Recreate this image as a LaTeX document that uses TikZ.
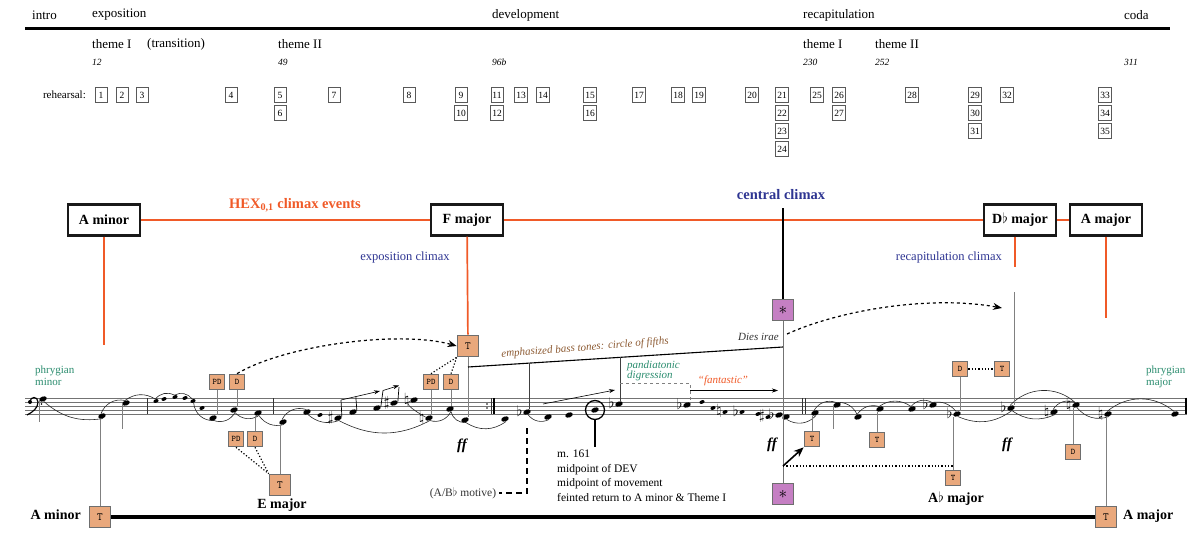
\documentclass[tikz,border=0pt]{standalone}
\usepackage{fontspec}
\setmainfont{Liberation Serif}
\usetikzlibrary{shapes.geometric,arrows.meta,calc}
\definecolor{sfOrange}{HTML}{F05A28}
\definecolor{sfNavy}{HTML}{2E3592}
\definecolor{sfGreen}{HTML}{2A8C6E}
\definecolor{sfBrown}{HTML}{8C5A32}
\definecolor{sfFill}{HTML}{E9A87C}
\definecolor{sfPurple}{HTML}{C57FC3}
\definecolor{sfEdge}{HTML}{6E6E6E}
\begin{document}
\begin{tikzpicture}[x=1pt,y=-1pt]
\tikzset{
    sfTop/.style={anchor=west,inner sep=0pt,font=\fontsize{13}{15}\selectfont},
    sfBar/.style={anchor=west,inner sep=0pt,font=\fontsize{9.5}{11}\selectfont\itshape},
    sfReh/.style={rectangle,draw=black!65,line width=0.6pt,minimum width=12pt,minimum height=15pt,inner sep=1.5pt,font=\fontsize{9.5}{10}\selectfont},
    sfKey/.style={rectangle,draw=black!90,line width=2.3pt,fill=white,minimum width=72pt,minimum height=31pt,inner sep=0pt,font=\fontsize{14}{16}\selectfont\bfseries},
    sfFn/.style={rectangle,draw=sfEdge,line width=1.7pt,fill=sfFill,minimum width=15pt,minimum height=15pt,inner sep=1.5pt,font=\fontsize{8.5}{9}\ttfamily},
    sfFnBig/.style={sfFn,minimum width=21pt,minimum height=21pt,font=\fontsize{11}{12}\ttfamily},
    sfStar/.style={rectangle,draw=sfEdge,line width=1.7pt,fill=sfPurple,minimum width=21pt,minimum height=21pt,inner sep=0pt,font=\fontsize{16}{16}\selectfont},
    sfNote/.style={ellipse,fill=black,minimum width=7.8pt,minimum height=5pt,inner sep=0pt,rotate=20},
    sfGrace/.style={sfNote,minimum width=5.4pt,minimum height=3.6pt},
    sfAcc/.style={inner sep=0pt,font=\fontsize{14}{14}\selectfont},
    sfStaff/.style={black!55,line width=0.6pt},
    sfStem/.style={black!50,line width=0.7pt},
    sfSlur/.style={black!85,line width=0.6pt},
    sfHex/.style={sfOrange,line width=1.7pt},
    sfLabel/.style={inner sep=0pt,font=\fontsize{14}{16}\selectfont\bfseries},
    sfClimax/.style={sfNavy,inner sep=0pt,font=\fontsize{12.5}{14}\selectfont},
    sfDyn/.style={inner sep=0pt,font=\fontsize{15}{15}\selectfont\bfseries\itshape},
    sfNoteText/.style={inner sep=0pt,font=\fontsize{11}{12}\selectfont\itshape},
    sfBody/.style={inner sep=0pt,font=\fontsize{11.5}{14.5}\selectfont},
}
\useasboundingbox (0,0) rectangle (1200,543);

\node[sfTop] (intro) at (32,15) {intro};
\node[sfTop] (expo) at (92,15) {exposition};
\node[sfTop] (dev) at (492,15) {development};
\node[sfTop] (recap) at (803,15) {recapitulation};
\node[sfTop] (coda) at (1124,15) {coda};
\draw[line width=2.7pt] (25,28.5) -- (1170,28.5);

\node[sfTop] (thI) at (92,44) {theme I};
\node[sfTop] (trans) at (147,44) {(transition)};
\node[sfTop] (thII) at (278,44) {theme II};
\node[sfTop] (rthI) at (803,44) {theme I};
\node[sfTop] (rthII) at (875,44) {theme II};
\node[sfBar] (m12) at (92,62) {12};
\node[sfBar] (m49) at (278,62) {49};
\node[sfBar] (m96) at (492,62) {96b};
\node[sfBar] (m230) at (803,62) {230};
\node[sfBar] (m252) at (875,62) {252};
\node[sfBar] (m311) at (1124,62) {311};

\node[anchor=east,inner sep=0pt,font=\fontsize{11}{12}\selectfont] (reh) at (86,95) {rehearsal:};
\foreach \x/\r/\t in {
    101/1/1, 122/1/2, 142/1/3, 231/1/4, 280/1/5, 280/2/6, 334/1/7, 409/1/8,
    461/1/9, 461/2/10, 497/1/11, 497/2/12, 521/1/13, 543/1/14, 590/1/15, 590/2/16,
    639/1/17, 678/1/18, 699/1/19, 752/1/20, 782/1/21, 782/2/22, 782/3/23, 782/4/24,
    817/1/25, 839/1/26, 839/2/27, 912/1/28, 975/1/29, 975/2/30, 975/3/31, 1007/1/32,
    1105/1/33, 1105/2/34, 1105/3/35
} {
    \node[sfReh] (r\t) at (\x,{77+18*\r}) {\t};
}

\node[sfKey] (kAmin) at (104,220) {A minor};
\node[sfKey] (kFmaj) at (467,220) {F major};
\node[sfKey] (kDb) at (1020,220) {D$\flat$ major};
\node[sfKey] (kAmaj) at (1106,220) {A major};
\draw[sfHex] (kAmin) -- (kFmaj) -- (kDb) -- (kAmaj);
\node[sfLabel,sfOrange,font=\fontsize{14.5}{16}\selectfont\bfseries] (hex) at (295,205) {HEX\textsubscript{0,1} climax events};
\node[sfLabel,sfNavy,font=\fontsize{14.5}{16}\selectfont\bfseries] (cc) at (781,195) {central climax};
\node[sfClimax] (ec) at (405,257) {exposition climax};
\node[sfClimax,anchor=east] (rc) at (1002,257) {recapitulation climax};

\foreach \k in {0,...,4} {
    \draw[sfStaff] (25,398+4*\k) -- (1187,398+4*\k);
}
\fill (30,402) circle (2);
\draw[line width=1.2pt] (30,402) .. controls (30,396) and (38,396) .. (38,402) .. controls (38,408) and (33,412) .. (27,415);
\fill (41.5,400) circle (0.85);
\fill (41.5,404) circle (0.85);
\foreach \x in {147,273,491,802,805} {
    \draw[sfStaff,black!80] (\x,398) -- (\x,414);
}
\draw[line width=2.2pt] (494,398) -- (494,414);
\fill (487,404) circle (0.9);
\fill (487,408) circle (0.9);
\draw[line width=2.6pt] (1186,397.7) -- (1186,414.3);

\foreach \i/\x/\y in {
    1/43/399, 2/102/416, 3/126/403, 10/213/418, 11/234/410, 12/258/413, 13/283/422,
    14/307/412, 16/338/418, 17/353/412, 18/377/408, 19/394/403, 20/414/400, 21/429/418,
    22/450/409, 23/465/420, 24/505/419, 25/527/412, 26/548/417, 27/569/415, 28/595/410,
    29/619/404, 30/687/405, 37/779/415, 38/786/417, 39/815/413, 40/837/405, 41/858/417,
    42/880/409, 43/912/409, 44/933/405, 45/957/414, 46/1011/408, 47/1054/412, 48/1076/405,
    49/1108/414, 50/1175/414
} {
    \node[sfNote] (n\i) at (\x,\y) {};
}
\foreach \i/\x/\y in {
    4/156/401, 5/164/399, 6/175/397, 7/185/398, 8/193/401, 9/202/408, 15/320/415,
    31/702/402, 32/713/408, 33/725/412, 34/742/412, 35/758/414, 36/768/417
} {
    \node[sfGrace] (n\i) at (\x,\y) {};
}
\foreach \i/\a in {16/\sharp, 19/\sharp, 20/\natural, 21/\natural, 25/\flat, 29/\flat,
    30/\flat, 33/\natural, 34/\flat, 36/\sharp, 37/\flat, 44/\flat, 45/\flat, 46/\flat,
    47/\natural, 48/\natural, 49/\natural} {
    \node[sfAcc,anchor=east] (acc\i) at ([xshift=-0.5pt,yshift=2pt]n\i.west) {$\a$};
}

\foreach \a/\b/\s in {1/2/25, 8/10/45, 10/11/40, 11/12/40, 12/13/35, 14/16/30, 16/21/28,
    21/22/40, 22/23/40, 23/24/35, 25/26/40, 38/39/40, 45/46/30, 46/47/30, 48/49/35} {
    \draw[sfSlur] (n\a.south) to[bend right=\s] (n\b.south);
}
\foreach \a/\b/\s in {2/3/40, 3/4/35, 4/6/40, 6/8/40, 13/14/40, 39/40/40, 40/41/35,
    41/42/35, 42/43/35, 43/44/40, 44/45/30, 46/48/45, 47/48/40, 49/50/40} {
    \draw[sfSlur] (n\a.north) to[bend left=\s] (n\b.north);
}
\draw[sfSlur] (n20.west) to[out=190,in=150] (n21.north west);

\draw[sfStem] (n1.west) -- ++(0,22);
\draw[sfStem] (n3.west) -- ++(0,25);
\draw[sfStem] (n40.west) -- ++(0,23);

\coordinate (b1) at (341,400);
\coordinate (b2) at (380,391);
\coordinate (b3) at (383,390.5);
\coordinate (b4) at (399,385.5);
\draw[sfStem,black] (n16.east) -- (b1);
\draw[sfStem,black] (n17.east) -- ($(b1)!0.38!(b2)$);
\draw[sfStem,black] (n18.east) -- (b3);
\draw[sfStem,black] (n19.east) -- (b4 |- 0,387);
\draw[black,line width=0.6pt,-{Stealth[length=6pt,width=4pt]}] (b1) -- (b2);
\draw[black,line width=0.6pt,-{Stealth[length=6pt,width=4pt]}] (b3) -- (b4);

\node[sfFnBig] (tAmin) at (100,517) {T};
\node[sfFnBig] (tAmaj) at (1106,517) {T};
\draw[line width=3.2pt] (tAmin) -- (tAmaj);
\node[sfLabel,anchor=east] (lAmin) at (81,515) {A minor};
\node[sfLabel,anchor=west] (lAmaj) at (1123,516) {A major};
\draw[sfStem] (tAmin.north) -- (tAmin.north |- n2.south);
\draw[sfStem] (tAmaj.north) -- (tAmaj.north |- n49.south);

\node[sfFn] (fPD1) at (217,382) {PD};
\node[sfFn] (fD1) at (237,382) {D};
\node[sfFn] (fPD2) at (236,439) {PD};
\node[sfFn] (fD2) at (255,439) {D};
\node[sfFnBig] (tE) at (280,485) {T};
\node[sfLabel] (lE) at (282,505) {E major};
\draw[sfStem] (fPD1.south) -- (fPD1.south |- n10.north);
\draw[sfStem] (fD1.south) -- (fD1.south |- n11.north);
\draw[sfStem] (fD2.north) -- (fD2.north |- n12.south);
\draw[sfStem] (tE.north) -- (tE.north |- n13.south);
\draw[dotted,line width=1.2pt] (fPD2.south) -- (tE.north west);
\draw[dotted,line width=1.2pt] (fD2.south) -- (tE.north west);

\node[sfFn] (fPD3) at (431,382) {PD};
\node[sfFn] (fD3) at (451,382) {D};
\node[sfFnBig] (tF) at (468,346) {T};
\draw[sfStem] (fPD3.south) -- (fPD3.south |- n21.north);
\draw[sfStem] (fD3.south) -- (fD3.south |- n22.north);
\draw[sfStem] (tF.south) -- (tF.south |- n23.north);
\draw[dotted,line width=1.2pt] (fPD3.north) -- (tF.south west);
\draw[dotted,line width=1.2pt] (fD3.north) -- (tF.south west);
\draw[dashed,line width=1.2pt,-{Stealth[length=9pt,width=7pt]}] (fD1.north) .. controls (285,345) and (400,330) .. (tF.west);
\draw[sfHex] (kFmaj) -- (tF);
\coordinate (oAmin) at (104,345);
\draw[sfHex] (kAmin) -- (oAmin);
\coordinate (oDb) at (1015,267);
\draw[sfHex] (oDb |- kDb.south) -- (oDb);
\coordinate (oAmaj) at (1106,318);
\draw[sfHex] (kAmaj) -- (oAmaj);

\node[sfDyn] (ff1) at (462,446) {ff};
\node[sfDyn] (ff2) at (772,445) {ff};
\node[sfDyn] (ff3) at (1007,445) {ff};

\node[sfGreen,anchor=north west,align=left,inner sep=0pt,font=\fontsize{11}{11.5}\selectfont] (phMin) at (35,366) {phrygian\\minor};
\node[sfGreen,anchor=north west,align=left,inner sep=0pt,font=\fontsize{11}{11.5}\selectfont] (phMaj) at (1146,366) {phrygian\\major};

\coordinate (eStart) at (468,367);
\coordinate (eEnd) at (783,347);
\draw[line width=1.1pt] (eStart) -- (eEnd);
\node[sfNoteText,sfBrown,rotate=4.5] (emph) at (585,348) {emphasized bass tones: circle of fifths};
\coordinate (eA) at ($(eStart)!0.194!(eEnd)$);
\coordinate (eB) at ($(eStart)!0.483!(eEnd)$);
\draw[sfStem,black!75] (eA) -- (eA |- n25.north);
\draw[sfStem,black!75] (eB) -- (eB |- n29.north);

\coordinate (pdA) at (620,383);
\coordinate (pdB) at (690,383);
\draw[dashed,black!50,line width=0.9pt] (pdA) -- (pdB) -- (pdB |- n30.north);
\node[sfNoteText,sfGreen,anchor=north west,align=left,font=\fontsize{11}{10}\selectfont\itshape] (pand) at (627,361) {pandiatonic\\digression};
\node[sfNoteText,sfOrange] (fant) at (723,381) {``fantastic''};
\coordinate (fa1) at (543,404);
\coordinate (fa2) at (615,390);
\coordinate (fa3) at (690,390.5);
\coordinate (fa4) at (778,390.5);
\draw[black,line width=0.6pt,-{Stealth[length=6pt,width=4pt]}] (fa1) -- (fa2);
\draw[black,line width=0.6pt,-{Stealth[length=6pt,width=4pt]}] (fa3) -- (fa4);

\node[circle,draw,line width=1.3pt,minimum size=19pt,inner sep=0pt] (circ) at (n28) {};
\coordinate (cEnd) at (595,447);
\draw[line width=1.6pt] (circ.south) -- (cEnd);
\node[sfBody,anchor=north west,align=left] (m161) at (557,450) {m. 161\\midpoint of DEV\\midpoint of movement\\feinted return to A minor \& Theme I};

\node[sfBody,black!80] (motive) at (463,493) {(A/B$\flat$ motive)};
\coordinate (mTop) at (527,428);
\draw[dashed,line width=1.6pt,dash pattern=on 6pt off 4pt] (mTop) -- (mTop |- motive) -- ([xshift=3pt]motive.east);

\node[sfStar] (sTop) at (783,310) {$\ast$};
\node[sfStar] (sBot) at (783,494) {$\ast$};
\coordinate (cTop) at (783,208);
\draw[line width=2pt] (cTop) -- (sTop);
\draw[black!55,line width=0.8pt] (sTop) -- (sBot);
\node[sfNoteText,black!80,anchor=east] (dies) at (779,337) {Dies irae};
\coordinate (dStart) at (787,334);
\coordinate (dEnd) at (1002,308);
\draw[dashed,line width=1.2pt,-{Stealth[length=9pt,width=7pt]}] (dStart) .. controls (840,310) and (930,295) .. (dEnd);
\coordinate (rTop) at (1014,292);
\draw[sfStem] (rTop) -- (rTop |- n46.north);

\node[sfFn] (tR1) at (812,439) {T};
\node[sfFn] (tR2) at (877,440) {T};
\node[sfFn] (fD4) at (960,369) {D};
\node[sfFn] (tR3) at (1002,369) {T};
\node[sfFn] (tAb) at (953,478) {T};
\node[sfFn] (fD5) at (1073,452) {D};
\node[sfLabel] (lAb) at (956,499) {A$\flat$ major};
\draw[sfStem] (tR1.north) -- (tR1.north |- n39.south);
\draw[sfStem] (tR2.north) -- (tR2.north |- n42.south);
\draw[sfStem] (fD4.south) -- (fD4.south |- n45.north);
\draw[sfStem] (tAb.north) -- (tAb.north |- n45.south);
\draw[sfStem] (fD5.north) -- (fD5.north |- n48.south);
\draw[dotted,line width=1.3pt] (fD4) -- (tR3);
\coordinate (aS) at (783,466);
\draw[dotted,line width=1.3pt] (aS) -- (aS -| tAb);
\draw[line width=1.6pt,-{Stealth[length=10pt,width=8pt]}] (aS) -- (tR1.south west);
\end{tikzpicture}
\end{document}
